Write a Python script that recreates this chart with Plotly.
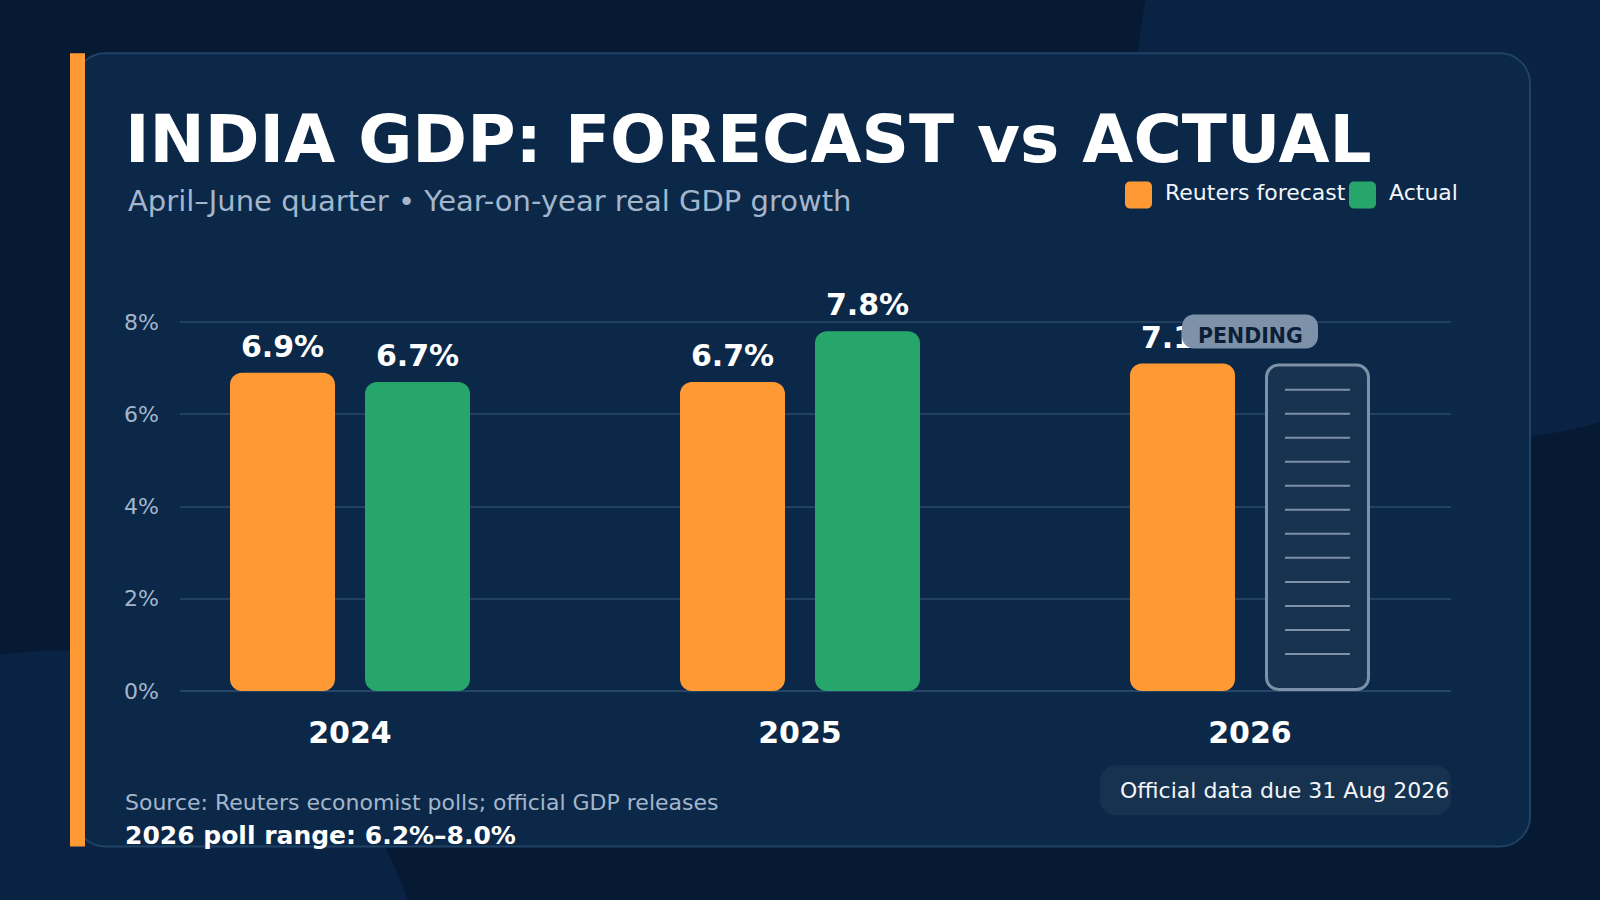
import plotly.graph_objects as go

# ---------------- data ----------------
years = ["2024", "2025", "2026"]
forecast = [6.9, 6.7, 7.1]          # Reuters poll median, %
actual = [6.7, 7.8, None]           # official print, % (2026 pending)
y_tick_vals = [0, 2, 4, 6, 8]
y_tick_text = ["0%", "2%", "4%", "6%", "8%"]

title_text = "INDIA GDP: FORECAST vs ACTUAL"
subtitle_text = "April\u2013June quarter \u2022 Year-on-year real GDP growth"
legend_names = ["Reuters forecast", "Actual"]
source_text = "Source: Reuters economist polls; official GDP releases"
range_text = "2026 poll range: 6.2%\u20138.0%"
due_text = "Official data due 31 Aug 2026"
pending_text = "PENDING"

# ---------------- style ----------------
FONT = "DejaVu Sans"
BG = "#061a33"
BLOB = "#0a2243"
PANEL = "#0c2849"
PANEL_LINE = "#1f4367"
ORANGE = "#ff9934"
GREEN = "#27a66b"
GRID = "#22405f"
MUTED = "#a3b6cc"
PEND_FILL = "#17334f"
PEND_LINE = "#7d91a9"

W, H = 1600, 900
PLOT_L, PLOT_R = 180, 1451
Y0_PX = 690.8
PX_PER_PCT = 46.05
Y_MAX = 9.0
PX_PER_X = 450.0
X0_CENTER_PX = 350.0

M_T = Y0_PX - Y_MAX * PX_PER_PCT
M_B = H - Y0_PX
PLOT_W = PLOT_R - PLOT_L
PLOT_H = Y0_PX - M_T

BAR_W = 105 / PX_PER_X
F_OFF = -120 / PX_PER_X
A_OFF = 15 / PX_PER_X
RADIUS = 12
LABEL_LIFT = 23.5 / PX_PER_PCT


def pxx(px):
    return (px - PLOT_L) / PLOT_W


def pxy(py):
    return (Y0_PX - py) / PLOT_H


def rr_path(x0, y0, x1, y1, rx, ry):
    k = 0.4477  # 1 - 0.5523
    return (
        f"M{x0 + rx},{y0} L{x1 - rx},{y0} "
        f"C{x1 - rx * k},{y0} {x1},{y0 + ry * k} {x1},{y0 + ry} "
        f"L{x1},{y1 - ry} "
        f"C{x1},{y1 - ry * k} {x1 - rx * k},{y1} {x1 - rx},{y1} "
        f"L{x0 + rx},{y1} "
        f"C{x0 + rx * k},{y1} {x0},{y1 - ry * k} {x0},{y1 - ry} "
        f"L{x0},{y0 + ry} "
        f"C{x0},{y0 + ry * k} {x0 + rx * k},{y0} {x0 + rx},{y0} Z"
    )


def rr_px(x0, y0, x1, y1, r):
    return rr_path(pxx(x0), pxy(y1), pxx(x1), pxy(y0), r / PLOT_W, r / PLOT_H)


fig = go.Figure()


def add_bar(xs, vals, color, offset, name):
    fig.add_trace(go.Bar(
        x=xs, y=vals, base=[0] * len(vals),
        offset=offset, width=BAR_W, name=name, showlegend=False,
        marker=dict(color=color, cornerradius=RADIUS, line=dict(width=0)),
        hoverinfo="skip"))
    fig.add_trace(go.Scatter(
        x=[x + offset + BAR_W / 2 for x in xs], y=[v + LABEL_LIFT for v in vals],
        mode="text", text=[f"{v:.1f}%" for v in vals], textposition="middle center",
        textfont=dict(family=FONT, size=30, color="#ffffff", weight=700),
        showlegend=False, hoverinfo="skip", cliponaxis=False))


xs_all = list(range(len(years)))
add_bar(xs_all, forecast, ORANGE, F_OFF, legend_names[0])
xa = [i for i, v in enumerate(actual) if v is not None]
va = [v for v in actual if v is not None]
add_bar(xa, va, GREEN, A_OFF, legend_names[1])

shapes = []
# background blobs
for cx, cy, r in [(1495, 80, 358), (60, 1017, 367)]:
    shapes.append(dict(type="circle", xref="paper", yref="paper",
                       x0=pxx(cx - r), x1=pxx(cx + r), y0=pxy(cy + r), y1=pxy(cy - r),
                       fillcolor=BLOB, line=dict(width=0), layer="below"))
# panel
shapes.append(dict(type="path", xref="paper", yref="paper", path=rr_px(75, 54, 1530, 846, 30),
                   fillcolor=PANEL, line=dict(color=PANEL_LINE, width=2), layer="below"))
# accent bar
shapes.append(dict(type="rect", xref="paper", yref="paper",
                   x0=pxx(70), x1=pxx(85), y0=pxy(846), y1=pxy(54),
                   fillcolor=ORANGE, line=dict(width=0), layer="below"))
# due-date pill
shapes.append(dict(type="path", xref="paper", yref="paper", path=rr_px(1100, 765, 1451, 815, 16),
                   fillcolor="#16324f", line=dict(width=0), layer="below"))
# legend swatches
for (x0, x1), c in zip([(1125, 1152), (1349, 1376)], [ORANGE, GREEN]):
    shapes.append(dict(type="path", xref="paper", yref="paper", path=rr_px(x0, 182, x1, 209, 5),
                       fillcolor=c, line=dict(width=0), layer="above"))

annotations = []

# pending placeholder for missing actuals
rx_d = RADIUS / PX_PER_X
ry_d = RADIUS / PX_PER_PCT
hb_x = 1.5 / PX_PER_X
hb_y = 1.5 / PX_PER_PCT
for i, v in enumerate(actual):
    if v is not None:
        continue
    top = forecast[i]
    bx0 = i + A_OFF + hb_x
    bx1 = i + A_OFF + BAR_W - hb_x
    shapes.append(dict(type="path", xref="x", yref="y",
                       path=rr_path(bx0, hb_y, bx1, top - hb_y, rx_d, ry_d),
                       fillcolor=PEND_FILL, line=dict(color=PEND_LINE, width=3), layer="above"))
    k = 0
    while top * PX_PER_PCT - (26 + 24 * k) >= 30:
        yl = top - (26 + 24 * k) / PX_PER_PCT
        shapes.append(dict(type="line", xref="x", yref="y",
                           x0=i + A_OFF + 20 / PX_PER_X, x1=i + A_OFF + BAR_W - 20 / PX_PER_X,
                           y0=yl, y1=yl, line=dict(color=PEND_LINE, width=2), layer="above"))
        k += 1
    # PENDING badge centred on the category
    cy = top + 32 / PX_PER_PCT
    shapes.append(dict(type="path", xref="x", yref="y",
                       path=rr_path(i - 68 / PX_PER_X, cy - 17 / PX_PER_PCT,
                                    i + 68 / PX_PER_X, cy + 17 / PX_PER_PCT,
                                    12 / PX_PER_X, 12 / PX_PER_PCT),
                       fillcolor=PEND_LINE, line=dict(width=0), layer="above"))
    annotations.append(dict(text=pending_text, x=i, y=top + 27.5 / PX_PER_PCT,
                            xref="x", yref="y", yanchor="middle", xanchor="center",
                            showarrow=False,
                            font=dict(family=FONT, size=20.5, color="#0b1e38", weight=700)))


def txt(text, x, y, size, color, anchor="left", bold=False):
    annotations.append(dict(text=text, x=pxx(x), y=pxy(y), xref="paper", yref="paper",
                            xanchor=anchor, yanchor="middle", showarrow=False,
                            font=dict(family=FONT, size=size, color=color,
                                      weight=700 if bold else 400)))


txt(title_text, 123, 140.5, 66, "#ffffff", bold=True)
txt(subtitle_text, 126, 201, 29, MUTED)
txt(legend_names[0], 1163, 192.5, 22, "#f2f5f9")
txt(legend_names[1], 1387, 192.5, 22, "#f2f5f9")
txt(source_text, 123, 802.5, 22, MUTED)
txt(range_text, 123, 835.5, 25, "#ffffff", bold=True)
txt(due_text, 1451, 790, 22, "#f2f5f9", anchor="right")

fig.update_layout(
    width=W, height=H,
    margin=dict(l=PLOT_L, r=W - PLOT_R, t=M_T, b=M_B, pad=0, autoexpand=False),
    paper_bgcolor=BG, plot_bgcolor="rgba(0,0,0,0)",
    barmode="overlay", showlegend=False,
    font=dict(family=FONT),
    shapes=shapes, annotations=annotations,
    xaxis=dict(range=[(PLOT_L - X0_CENTER_PX) / PX_PER_X, (PLOT_R - X0_CENTER_PX) / PX_PER_X],
               tickmode="array", tickvals=xs_all, ticktext=years,
               tickfont=dict(family=FONT, size=30, color="#ffffff", weight=700),
               showgrid=False, zeroline=False, showline=False, ticks="",
               ticklabelstandoff=21, fixedrange=True),
    yaxis=dict(range=[0, Y_MAX], tickmode="array", tickvals=y_tick_vals, ticktext=y_tick_text,
               tickfont=dict(family=FONT, size=22, color=MUTED),
               showgrid=True, gridcolor=GRID, gridwidth=2,
               zeroline=True, zerolinecolor="#264668", zerolinewidth=2,
               showline=False, ticks="", ticklabelstandoff=20, fixedrange=True),
)

fig.write_html("out.html", config={"displayModeBar": False},
               post_script="document.body.style.margin='0';document.body.style.overflow='hidden';")
